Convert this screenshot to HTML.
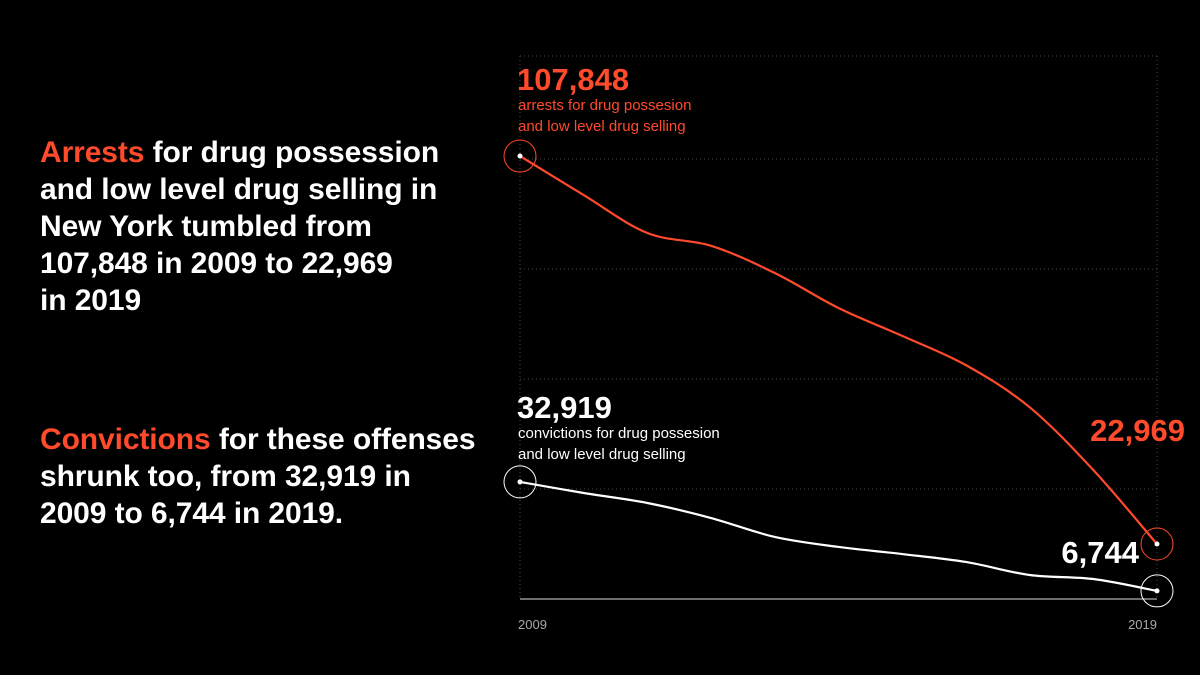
<!DOCTYPE html>
<html><head><meta charset="utf-8"><style>
body{margin:0;background:#000;width:1200px;height:675px;overflow:hidden;font-family:"Liberation Sans",sans-serif;}
.p{position:absolute;left:40px;color:#fff;font-weight:bold;font-size:30px;line-height:37px;letter-spacing:-0.1px;margin:0;}
.r{color:#ff4a2b}
</style></head><body>
<p class="p" style="top:134px;width:480px"><span class="r">Arrests</span> for drug possession<br>and low level drug selling in<br>New York tumbled from<br>107,848 in 2009 to 22,969<br>in 2019</p>
<p class="p" style="top:421px;width:480px"><span class="r">Convictions</span> for these offenses<br>shrunk too, from 32,919 in<br>2009 to 6,744 in 2019.</p>
<svg id="chart" width="1200" height="675" style="position:absolute;left:0;top:0"></svg>
<script>
const years=[2009,2010,2011,2012,2013,2014,2015,2016,2017,2018,2019];
const arrests=[107848,99300,91000,88200,82250,74600,68500,62100,52900,39150,22969];
const convictions=[32919,30260,27860,24250,19700,17300,15600,13700,10570,9600,6744];
const gridYs=[56,159,269,379,489];
const RED="#ff4a2b";
const svg=document.getElementById('chart');
const NS="http://www.w3.org/2000/svg";
function x(yr){return 520+(yr-2009)*(1157-520)/10;}
function yA(v){return 649-v*0.004571;}
function yC(v){return 619-v*0.004164;}
function mk(t,a){const e=document.createElementNS(NS,t);for(const k in a)e.setAttribute(k,a[k]);svg.appendChild(e);return e;}
gridYs.forEach(g=>{const l=mk('line',{x1:520,x2:1157,y1:g,y2:g,stroke:'#444','stroke-width':1,'stroke-dasharray':'1 3'});

});
[520,1157].forEach(gx=>{const l=mk('line',{x1:gx,x2:gx,y1:56,y2:599,stroke:'#444','stroke-width':1,'stroke-dasharray':'1 3'});

});
const base=mk('line',{x1:520,x2:1157,y1:599,y2:599,stroke:'#ddd','stroke-width':1});


function path(pts){let d=`M${pts[0][0]},${pts[0][1]}`;for(let i=0;i<pts.length-1;i++){const p0=pts[Math.max(0,i-1)],p1=pts[i],p2=pts[i+1],p3=pts[Math.min(pts.length-1,i+2)];
d+=` C${p1[0]+(p2[0]-p0[0])/6},${p1[1]+(p2[1]-p0[1])/6} ${p2[0]-(p3[0]-p1[0])/6},${p2[1]-(p3[1]-p1[1])/6} ${p2[0]},${p2[1]}`;}return d;}
function series(vals,yf,col,name){
const pts=vals.map((v,i)=>[x(years[i]),yf(v)]);
const p=mk('path',{d:path(pts),fill:'none',stroke:col,'stroke-width':2.2});


[pts[0],pts[pts.length-1]].forEach(q=>{
const c=mk('circle',{cx:q[0],cy:q[1],r:16,fill:'none',stroke:col,'stroke-width':1});


const d=mk('circle',{cx:q[0],cy:q[1],r:2.5,fill:'#fff'});

});
return pts;}
const pa=series(arrests,yA,RED,'arrests');
const pc=series(convictions,yC,'#fff','convictions');
function txt(s,a,name){const t=mk('text',Object.assign({'font-family':'Liberation Sans, sans-serif'},a));t.textContent=s;

return t;}
const f=n=>n.toLocaleString('en-US');
txt(f(arrests[0]),{x:517,y:90,fill:RED,'font-size':31,'font-weight':'bold','letter-spacing':0},'arrests-start-value');
txt('arrests for drug possesion',{x:518,y:110,fill:RED,'font-size':15,'letter-spacing':0},'arrests-caption-1');
txt('and low level drug selling',{x:518,y:131,fill:RED,'font-size':15,'letter-spacing':0},'arrests-caption-2');
txt(f(convictions[0]),{x:517,y:418,fill:'#fff','font-size':31,'font-weight':'bold','letter-spacing':0},'convictions-start-value');
txt('convictions for drug possesion',{x:518,y:438,fill:'#fff','font-size':15,'letter-spacing':0},'convictions-caption-1');
txt('and low level drug selling',{x:518,y:459,fill:'#fff','font-size':15,'letter-spacing':0},'convictions-caption-2');
txt(f(arrests[10]),{x:1185,y:441,fill:RED,'font-size':31,'font-weight':'bold','letter-spacing':0,'text-anchor':'end'},'arrests-end-value');
txt(f(convictions[10]),{x:1139,y:563,fill:'#fff','font-size':31,'font-weight':'bold','letter-spacing':0,'text-anchor':'end'},'convictions-end-value');
txt(String(years[0]),{x:518,y:629,fill:'#aaa','font-size':13},'x-tick-2009');
txt(String(years[10]),{x:1157,y:629,fill:'#aaa','font-size':13,'text-anchor':'end'},'x-tick-2019');
</script>
</body></html>
